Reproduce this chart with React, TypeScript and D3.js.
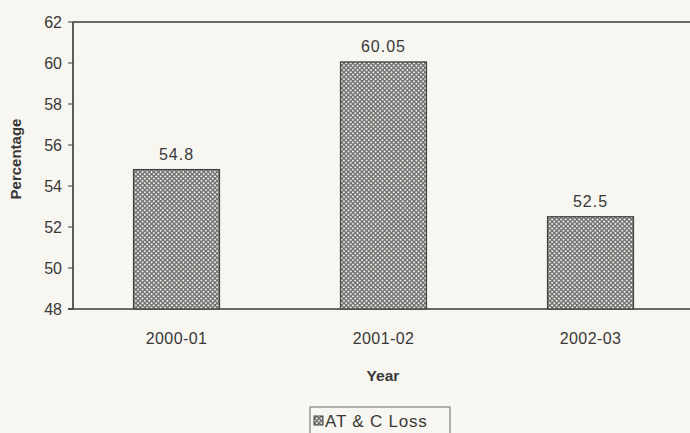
import React from "react";
import * as d3 from "d3";

const years = ["2000-01", "2001-02", "2002-03"];
const lossValues = [54.8, 60.05, 52.5];
const yTicks = [48, 50, 52, 54, 56, 58, 60, 62];
const seriesName = "AT & C Loss";

const W = 690;
const H = 433;
const margin = { left: 73, top: 22, bottom: 309, right: 694 };

export default function App() {
  const x = d3.scaleBand<string>().domain(years).range([margin.left, margin.right]).padding(0);
  const y = d3.scaleLinear().domain([48, 62]).range([margin.bottom, margin.top]);
  const barW = x.bandwidth() * 0.415;
  const font = "'Liberation Sans', Arial, sans-serif";
  const ink = "#383838";

  return (
    <svg
      width={W}
      height={H}
      style={{ position: "absolute", left: 0, top: 0, background: "#f8f6f0" }}
      fontFamily={font}
    >
      <defs>
        <pattern id="hatch" width="3.2" height="3.2" patternUnits="userSpaceOnUse" patternTransform="rotate(45)">
          <rect width="3.2" height="3.2" fill="#707070" />
          <rect x="0.6" y="0.6" width="1.8" height="1.8" fill="#f2f0ea" />
        </pattern>
      </defs>

      {/* plot frame */}
      <line x1={margin.left} x2={W} y1={margin.top} y2={margin.top} stroke={ink} strokeWidth={1.6} />
      <line x1={margin.left} x2={margin.left} y1={margin.top} y2={margin.bottom} stroke={ink} strokeWidth={1.6} />
      <line x1={margin.left - 5} x2={W} y1={margin.bottom} y2={margin.bottom} stroke={ink} strokeWidth={1.6} />

      {/* y axis */}
      {yTicks.map((t) => (
        <g key={t}>
          <line x1={margin.left - 5} x2={margin.left} y1={y(t)} y2={y(t)} stroke={ink} strokeWidth={1} />
          <text x={margin.left - 11} y={y(t)} dy="0.35em" textAnchor="end" fontSize={16} fill={ink}>
            {t}
          </text>
        </g>
      ))}
      <text
        transform={`translate(21,159) rotate(-90)`}
        textAnchor="middle"
        fontSize={15}
        fontWeight="bold"
        fill={ink}
      >
        Percentage
      </text>

      {/* bars */}
      {years.map((yr, i) => {
        const cx = (x(yr) as number) + x.bandwidth() / 2;
        const v = lossValues[i];
        return (
          <g key={yr}>
            <rect
              x={cx - barW / 2}
              y={y(v)}
              width={barW}
              height={margin.bottom - y(v)}
              fill="url(#hatch)"
              stroke="#444"
              strokeWidth={1.3}
            />
            <text x={cx} y={y(v) - 10} textAnchor="middle" fontSize={16} letterSpacing={1} fill={ink}>
              {v}
            </text>
            <text x={cx} y={344} textAnchor="middle" fontSize={16} letterSpacing={0.4} fill={ink}>
              {yr}
            </text>
          </g>
        );
      })}

      <text x={(margin.left + margin.right) / 2 - 0.5} y={381} textAnchor="middle" fontSize={15.5} fontWeight="bold" fill={ink}>
        Year
      </text>

      {/* legend */}
      <rect x={310} y={407} width={140} height={40} fill="none" stroke="#666" strokeWidth={1} />
      <rect x={314} y={416} width={9} height={9} fill="url(#hatch)" stroke="#444" strokeWidth={1} />
      <text x={325} y={427} fontSize={17} letterSpacing={0.8} fill={ink}>
        {seriesName}
      </text>
    </svg>
  );
}
